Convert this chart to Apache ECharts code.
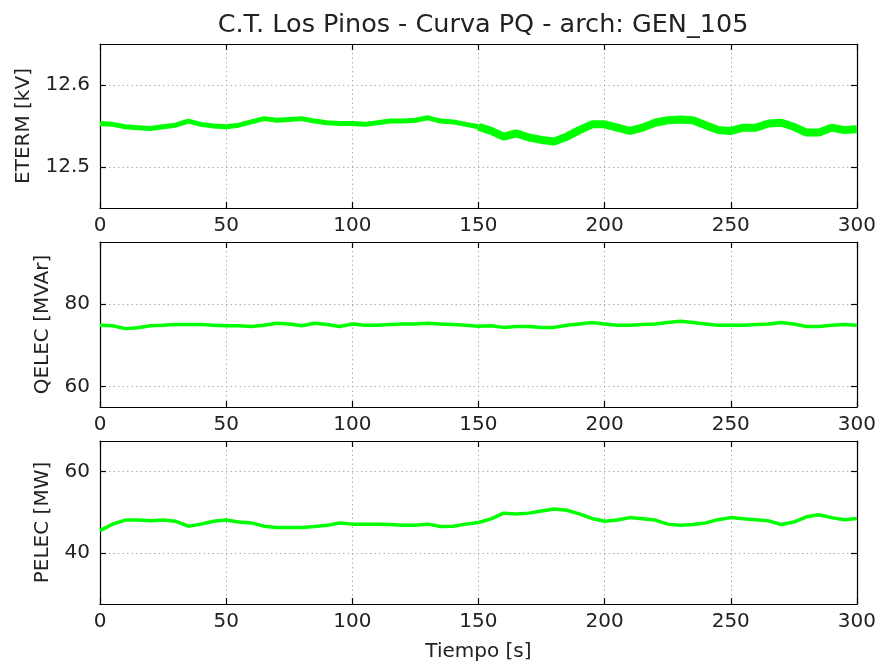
<!DOCTYPE html>
<html>
<head>
<meta charset="utf-8">
<title>C.T. Los Pinos - Curva PQ</title>
<script src="https://cdn.jsdelivr.net/npm/echarts@6/dist/echarts.min.js"></script>
<style>
	html, body { margin: 0; padding: 0; background: #fff; }
	#chart { width: 879px; height: 665px; }
</style>
</head>
<body>
<div id="chart"></div>
<script>
(function() {
	// tiempo [s]
	var tiempo = [0, 5, 10, 15, 20, 25, 30, 35, 40, 45, 50, 55, 60, 65, 70, 75, 80, 85, 90, 95,
		100, 105, 110, 115, 120, 125, 130, 135, 140, 145, 150, 155, 160, 165, 170, 175, 180, 185, 190, 195,
		200, 205, 210, 215, 220, 225, 230, 235, 240, 245, 250, 255, 260, 265, 270, 275, 280, 285, 290, 295, 300];

	// tension en bornes [kV]
	var eterm = [12.553, 12.552, 12.549, 12.548, 12.547, 12.549, 12.551, 12.556, 12.552, 12.550,
		12.549, 12.551, 12.555, 12.559, 12.557, 12.558, 12.559, 12.556, 12.554, 12.553,
		12.553, 12.552, 12.554, 12.556, 12.556, 12.557, 12.560, 12.556, 12.555, 12.552,
		12.549, 12.544, 12.537, 12.541, 12.536, 12.533, 12.531, 12.537, 12.545, 12.552,
		12.552, 12.548, 12.544, 12.548, 12.554, 12.557, 12.558, 12.557, 12.551, 12.545,
		12.544, 12.548, 12.548, 12.553, 12.554, 12.549, 12.542, 12.542, 12.548, 12.545, 12.546];

	// potencia reactiva [MVAr]
	var qelec = [74.8, 74.7, 74.0, 74.2, 74.7, 74.8, 75.0, 75.0, 75.0, 74.8,
		74.7, 74.7, 74.5, 74.8, 75.3, 75.1, 74.7, 75.3, 75.0, 74.5,
		75.1, 74.8, 74.8, 75.0, 75.1, 75.1, 75.3, 75.1, 75.0, 74.8,
		74.6, 74.7, 74.3, 74.5, 74.5, 74.3, 74.3, 74.8, 75.1, 75.5,
		75.1, 74.8, 74.8, 75.0, 75.1, 75.5, 75.8, 75.5, 75.1, 74.8,
		74.8, 74.8, 75.0, 75.1, 75.5, 75.1, 74.5, 74.5, 74.8, 75.0, 74.8];

	// potencia activa [MW]
	var pelec = [45.5, 47.1, 48.1, 48.1, 47.9, 48.1, 47.8, 46.6, 47.1, 47.8,
		48.1, 47.6, 47.4, 46.6, 46.3, 46.3, 46.3, 46.5, 46.8, 47.4,
		47.1, 47.1, 47.1, 47.0, 46.8, 46.8, 47.1, 46.5, 46.6, 47.1,
		47.5, 48.4, 49.8, 49.6, 49.8, 50.3, 50.8, 50.5, 49.6, 48.5,
		47.8, 48.1, 48.7, 48.4, 48.1, 47.1, 46.8, 47.0, 47.4, 48.2,
		48.7, 48.4, 48.2, 47.9, 47.0, 47.6, 48.9, 49.4, 48.7, 48.2, 48.5];

	var etermTicks = [12.5, 12.6];
	var qelecTicks = [60, 80];
	var pelecTicks = [40, 60];

	var verde = '#00ff00';
	var fuente = 'DejaVu Sans';

	function pares(arr, desde, hasta) {
		var out = [];
		for (var i = desde; i <= hasta; i++) {
			out.push([tiempo[i], arr[i]]);
		}
		return out;
	}

	// grids: uno por subgrafico
	var grids = [
		{ left: 100, right: 22, top: 44, height: 164 },
		{ left: 100, right: 22, top: 242, height: 165 },
		{ left: 100, right: 22, top: 441, height: 163 }
	];

	var xAxes = [];
	var yAxes = [];
	var yCfg = [
		{ min: 12.45, max: 12.65, ticks: etermTicks, name: 'ETERM [kV]', gap: 66, dec: 1 },
		{ min: 55, max: 95, ticks: qelecTicks, name: 'QELEC [MVAr]', gap: 47, dec: 0 },
		{ min: 27.5, max: 67.5, ticks: pelecTicks, name: 'PELEC [MW]', gap: 47, dec: 0 }
	];

	for (var g = 0; g < 3; g++) {
		// eje x inferior con etiquetas
		xAxes.push({
			type: 'value',
			gridIndex: g,
			min: 0,
			max: 300,
			interval: 50,
			position: 'bottom',
			name: g === 2 ? 'Tiempo [s]' : '',
			nameLocation: 'middle',
			nameGap: 38,
			nameTextStyle: { fontFamily: fuente, fontSize: 20, color: '#222' },
			axisLine: { show: true, onZero: false, lineStyle: { color: '#000', width: 1.2 } },
			axisTick: { show: true, inside: true, length: 6, lineStyle: { color: '#000', width: 1.2 } },
			axisLabel: { fontFamily: fuente, fontSize: 20, color: '#222', margin: 8 },
			splitLine: { show: true, lineStyle: { color: '#b0b0b0', width: 1, type: [1.5, 3] } }
		});
		// eje x superior, solo ticks
		xAxes.push({
			type: 'value',
			gridIndex: g,
			min: 0,
			max: 300,
			interval: 50,
			position: 'top',
			axisLine: { show: true, onZero: false, lineStyle: { color: '#000', width: 1.2 } },
			axisTick: { show: true, inside: true, length: 6, lineStyle: { color: '#000', width: 1.2 } },
			axisLabel: { show: false },
			splitLine: { show: false }
		});

		var c = yCfg[g];
		yAxes.push({
			type: 'value',
			gridIndex: g,
			min: c.min,
			max: c.max,
			position: 'left',
			name: c.name,
			nameLocation: 'middle',
			nameGap: c.gap,
			nameRotate: 90,
			nameTextStyle: { fontFamily: fuente, fontSize: 20, color: '#222' },
			axisLine: { show: true, onZero: false, lineStyle: { color: '#000', width: 1.2 } },
			axisTick: { show: true, inside: true, length: 6, customValues: c.ticks, lineStyle: { color: '#000', width: 1.2 } },
			axisLabel: {
				fontFamily: fuente, fontSize: 20, color: '#222', margin: 10,
				customValues: c.ticks,
				formatter: (function(d) { return function(v) { return v.toFixed(d); }; })(c.dec)
			},
			splitLine: { show: true, lineStyle: { color: '#b0b0b0', width: 1, type: [1.5, 3] } }
		});
		yAxes.push({
			type: 'value',
			gridIndex: g,
			min: c.min,
			max: c.max,
			position: 'right',
			axisLine: { show: true, onZero: false, lineStyle: { color: '#000', width: 1.2 } },
			axisTick: { show: true, inside: true, length: 6, customValues: c.ticks, lineStyle: { color: '#000', width: 1.2 } },
			axisLabel: { show: false },
			splitLine: { show: false }
		});
	}

	function linea(xi, yi, data, ancho) {
		return {
			type: 'line',
			xAxisIndex: xi,
			yAxisIndex: yi,
			data: data,
			showSymbol: false,
			symbol: 'none',
			lineStyle: { color: verde, width: ancho },
			z: 1
		};
	}

	var option = {
		animation: false,
		backgroundColor: '#fff',
		title: {
			text: 'C.T. Los Pinos - Curva PQ - arch: GEN_105',
			left: 478,
			textAlign: 'center',
			top: 7,
			textStyle: { fontFamily: fuente, fontSize: 25.5, fontWeight: 'normal', color: '#222' }
		},
		grid: grids,
		xAxis: xAxes,
		yAxis: yAxes,
		series: [
			// la tension tiene mas ruido en la segunda mitad
			linea(0, 0, pares(eterm, 0, 30), 5),
			linea(0, 0, pares(eterm, 30, 60), 8),
			linea(2, 2, pares(qelec, 0, 60), 3.5),
			linea(4, 4, pares(pelec, 0, 60), 3.5)
		]
	};

	var myChart = echarts.init(document.getElementById('chart'));
	myChart.setOption(option);
}());
</script>
</body>
</html>
